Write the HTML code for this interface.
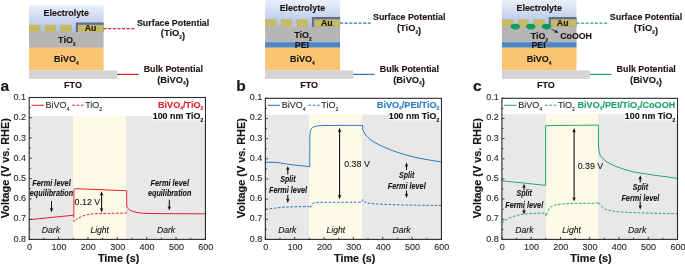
<!DOCTYPE html>
<html lang="en"><head><meta charset="utf-8"><title>Figure</title>
<style>
html,body{margin:0;padding:0;background:#fff;}
body{width:685px;height:265px;overflow:hidden;}
svg{display:block;font-family:"Liberation Sans",Arial,Helvetica,sans-serif;}
</style></head><body>
<svg width="685" height="265" viewBox="0 0 685 265">
<rect x="0" y="0" width="685" height="265" fill="#ffffff"/>
<defs>
<linearGradient id="eleca" x1="0" y1="0" x2="0" y2="1"><stop offset="0" stop-color="#eaeff9"/><stop offset="0.5" stop-color="#cdd8f0"/><stop offset="1" stop-color="#aec0e6"/></linearGradient>
<linearGradient id="elecb" x1="0" y1="0" x2="0" y2="1"><stop offset="0" stop-color="#eaeff9"/><stop offset="0.5" stop-color="#cdd8f0"/><stop offset="1" stop-color="#aec0e6"/></linearGradient>
<linearGradient id="elecc" x1="0" y1="0" x2="0" y2="1"><stop offset="0" stop-color="#eaeff9"/><stop offset="0.5" stop-color="#cdd8f0"/><stop offset="1" stop-color="#aec0e6"/></linearGradient>
</defs>
<rect x="29.0" y="5.3" width="74.6" height="26.70" fill="url(#eleca)"/>
<rect x="29.0" y="32.0" width="74.6" height="15.90" fill="#b5b5b6"/>
<rect x="29.0" y="47.6" width="74.6" height="22.8" fill="#f8c572"/>
<rect x="29.0" y="70.4" width="88" height="8.5" fill="#d3d5d5"/>
<rect x="29.00" y="24.8" width="11.60" height="7.20" fill="#c6ba69"/>
<rect x="44.60" y="24.8" width="11.40" height="7.20" fill="#c6ba69"/>
<rect x="60.20" y="24.8" width="11.80" height="7.20" fill="#c6ba69"/>
<rect x="75.80" y="22.50" width="27.80" height="9.50" fill="#5d708c"/>
<rect x="78.00" y="24.80" width="25.60" height="7.20" fill="#c6ba69"/>
<text x="90.50" y="30.80" font-size="8.8" font-weight="bold" font-style="normal" fill="#1e1412" text-anchor="middle" stroke="#1e1412" stroke-width="0.14" stroke-linejoin="round" >Au</text>
<text x="66.30" y="16.10" font-size="9.2" font-weight="bold" font-style="normal" fill="#1e1412" text-anchor="middle" textLength="45.40" lengthAdjust="spacingAndGlyphs" stroke="#1e1412" stroke-width="0.14" stroke-linejoin="round" >Electrolyte</text>
<text x="66.90" y="43.00" font-size="9.0" font-weight="bold" font-style="normal" fill="#1e1412" text-anchor="middle" stroke="#1e1412" stroke-width="0.14" stroke-linejoin="round" >TiO<tspan dy="2.9" font-size="4.9">2</tspan></text>
<text x="66.30" y="62.00" font-size="9.0" font-weight="bold" font-style="normal" fill="#1e1412" text-anchor="middle" stroke="#1e1412" stroke-width="0.14" stroke-linejoin="round" >BiVO<tspan dy="2.9" font-size="4.9">4</tspan></text>
<text x="73.00" y="87.50" font-size="9.0" font-weight="bold" font-style="normal" fill="#1e1412" text-anchor="middle" stroke="#1e1412" stroke-width="0.14" stroke-linejoin="round" >FTO</text>
<path d="M103.60 28.60 H135.60" stroke="#e6202e" stroke-width="1.25" stroke-dasharray="3.1 1.5" fill="none"/>
<path d="M117.00 74.4 H138.50" stroke="#e6202e" stroke-width="1.25" fill="none"/>
<text x="173.10" y="25.80" font-size="9.3" font-weight="bold" font-style="normal" fill="#1e1412" text-anchor="middle" textLength="72.30" lengthAdjust="spacingAndGlyphs" stroke="#1e1412" stroke-width="0.14" stroke-linejoin="round" >Surface Potential</text>
<text x="173.00" y="36.40" font-size="9.3" font-weight="bold" font-style="normal" fill="#1e1412" text-anchor="middle" stroke="#1e1412" stroke-width="0.14" stroke-linejoin="round" >(TiO<tspan dy="2.9" font-size="4.9">2</tspan>)</text>
<text x="173.30" y="72.00" font-size="9.3" font-weight="bold" font-style="normal" fill="#1e1412" text-anchor="middle" textLength="59.20" lengthAdjust="spacingAndGlyphs" stroke="#1e1412" stroke-width="0.14" stroke-linejoin="round" >Bulk Potential</text>
<text x="173.00" y="82.50" font-size="9.3" font-weight="bold" font-style="normal" fill="#1e1412" text-anchor="middle" stroke="#1e1412" stroke-width="0.14" stroke-linejoin="round" >(BiVO<tspan dy="2.9" font-size="4.9">4</tspan>)</text>
<rect x="265.1" y="0" width="75.0" height="26.80" fill="url(#elecb)"/>
<rect x="265.1" y="26.8" width="75.0" height="15.70" fill="#b5b5b6"/>
<rect x="265.1" y="42.2" width="75.0" height="5.6" fill="#4a86c8"/>
<rect x="265.1" y="47.6" width="75.0" height="22.8" fill="#f8c572"/>
<rect x="265.1" y="70.4" width="88" height="8.5" fill="#d3d5d5"/>
<rect x="265.10" y="19.3" width="11.60" height="7.50" fill="#c6ba69"/>
<rect x="280.70" y="19.3" width="11.40" height="7.50" fill="#c6ba69"/>
<rect x="296.30" y="19.3" width="11.80" height="7.50" fill="#c6ba69"/>
<rect x="311.90" y="17.00" width="28.20" height="9.80" fill="#5d708c"/>
<rect x="314.10" y="19.30" width="26.00" height="7.50" fill="#c6ba69"/>
<text x="326.80" y="25.60" font-size="8.8" font-weight="bold" font-style="normal" fill="#1e1412" text-anchor="middle" stroke="#1e1412" stroke-width="0.14" stroke-linejoin="round" >Au</text>
<text x="302.40" y="11.10" font-size="9.2" font-weight="bold" font-style="normal" fill="#1e1412" text-anchor="middle" textLength="45.40" lengthAdjust="spacingAndGlyphs" stroke="#1e1412" stroke-width="0.14" stroke-linejoin="round" >Electrolyte</text>
<text x="303.00" y="38.20" font-size="9.0" font-weight="bold" font-style="normal" fill="#1e1412" text-anchor="middle" stroke="#1e1412" stroke-width="0.14" stroke-linejoin="round" >TiO<tspan dy="2.9" font-size="4.9">2</tspan></text>
<text x="301.90" y="48.40" font-size="8.8" font-weight="bold" font-style="normal" fill="#1e1412" text-anchor="middle" stroke="#1e1412" stroke-width="0.14" stroke-linejoin="round" >PEI</text>
<text x="302.40" y="62.00" font-size="9.0" font-weight="bold" font-style="normal" fill="#1e1412" text-anchor="middle" stroke="#1e1412" stroke-width="0.14" stroke-linejoin="round" >BiVO<tspan dy="2.9" font-size="4.9">4</tspan></text>
<text x="309.10" y="87.50" font-size="9.0" font-weight="bold" font-style="normal" fill="#1e1412" text-anchor="middle" stroke="#1e1412" stroke-width="0.14" stroke-linejoin="round" >FTO</text>
<path d="M340.10 23.10 H372.10" stroke="#2a7bc3" stroke-width="1.25" stroke-dasharray="3.1 1.5" fill="none"/>
<path d="M353.10 74.4 H374.60" stroke="#2a7bc3" stroke-width="1.25" fill="none"/>
<text x="409.20" y="20.30" font-size="9.3" font-weight="bold" font-style="normal" fill="#1e1412" text-anchor="middle" textLength="72.30" lengthAdjust="spacingAndGlyphs" stroke="#1e1412" stroke-width="0.14" stroke-linejoin="round" >Surface Potential</text>
<text x="409.10" y="30.90" font-size="9.3" font-weight="bold" font-style="normal" fill="#1e1412" text-anchor="middle" stroke="#1e1412" stroke-width="0.14" stroke-linejoin="round" >(TiO<tspan dy="2.9" font-size="4.9">2</tspan>)</text>
<text x="409.40" y="72.00" font-size="9.3" font-weight="bold" font-style="normal" fill="#1e1412" text-anchor="middle" textLength="59.20" lengthAdjust="spacingAndGlyphs" stroke="#1e1412" stroke-width="0.14" stroke-linejoin="round" >Bulk Potential</text>
<text x="409.10" y="82.50" font-size="9.3" font-weight="bold" font-style="normal" fill="#1e1412" text-anchor="middle" stroke="#1e1412" stroke-width="0.14" stroke-linejoin="round" >(BiVO<tspan dy="2.9" font-size="4.9">4</tspan>)</text>
<rect x="501.9" y="0" width="74.6" height="26.80" fill="url(#elecc)"/>
<rect x="501.9" y="26.8" width="74.6" height="15.70" fill="#b5b5b6"/>
<rect x="501.9" y="42.2" width="74.6" height="5.6" fill="#4a86c8"/>
<rect x="501.9" y="47.6" width="74.6" height="22.8" fill="#f8c572"/>
<rect x="501.9" y="70.4" width="88" height="8.5" fill="#d3d5d5"/>
<rect x="501.90" y="19.3" width="11.60" height="7.50" fill="#c6ba69"/>
<rect x="517.50" y="19.3" width="11.40" height="7.50" fill="#c6ba69"/>
<rect x="533.10" y="19.3" width="11.80" height="7.50" fill="#c6ba69"/>
<rect x="548.70" y="17.00" width="27.80" height="9.80" fill="#5d708c"/>
<rect x="550.90" y="19.30" width="25.60" height="7.50" fill="#c6ba69"/>
<text x="562.70" y="25.60" font-size="8.8" font-weight="bold" font-style="normal" fill="#1e1412" text-anchor="middle" stroke="#1e1412" stroke-width="0.14" stroke-linejoin="round" >Au</text>
<text x="539.20" y="11.10" font-size="9.2" font-weight="bold" font-style="normal" fill="#1e1412" text-anchor="middle" textLength="45.40" lengthAdjust="spacingAndGlyphs" stroke="#1e1412" stroke-width="0.14" stroke-linejoin="round" >Electrolyte</text>
<text x="539.40" y="38.80" font-size="8.8" font-weight="bold" font-style="normal" fill="#1e1412" text-anchor="middle" stroke="#1e1412" stroke-width="0.14" stroke-linejoin="round" >TiO<tspan dy="2.9" font-size="4.9">2</tspan></text>
<text x="538.60" y="48.40" font-size="8.8" font-weight="bold" font-style="normal" fill="#1e1412" text-anchor="middle" stroke="#1e1412" stroke-width="0.14" stroke-linejoin="round" >PEI</text>
<text x="560.20" y="38.80" font-size="8.8" font-weight="bold" font-style="normal" fill="#1e1412" text-anchor="start" stroke="#1e1412" stroke-width="0.14" stroke-linejoin="round" >CoOOH</text>
<ellipse cx="515.30" cy="26.6" rx="4.7" ry="2.8" fill="#0d9b62"/>
<ellipse cx="530.80" cy="26.6" rx="4.7" ry="2.8" fill="#0d9b62"/>
<ellipse cx="546.50" cy="26.6" rx="4.7" ry="2.8" fill="#0d9b62"/>
<path d="M551.50 29.3 L556.50 32.0" stroke="#1e1412" stroke-width="0.9" fill="none"/>
<path d="M558.50 33.1 l-4.0 -0.5 l1.5 -2.8 z" fill="#1e1412"/>
<text x="539.20" y="62.00" font-size="9.0" font-weight="bold" font-style="normal" fill="#1e1412" text-anchor="middle" stroke="#1e1412" stroke-width="0.14" stroke-linejoin="round" >BiVO<tspan dy="2.9" font-size="4.9">4</tspan></text>
<text x="545.90" y="87.50" font-size="9.0" font-weight="bold" font-style="normal" fill="#1e1412" text-anchor="middle" stroke="#1e1412" stroke-width="0.14" stroke-linejoin="round" >FTO</text>
<path d="M576.50 23.10 H608.50" stroke="#1ea468" stroke-width="1.25" stroke-dasharray="3.1 1.5" fill="none"/>
<path d="M589.90 74.4 H611.40" stroke="#1ea468" stroke-width="1.25" fill="none"/>
<text x="646.00" y="20.30" font-size="9.3" font-weight="bold" font-style="normal" fill="#1e1412" text-anchor="middle" textLength="72.30" lengthAdjust="spacingAndGlyphs" stroke="#1e1412" stroke-width="0.14" stroke-linejoin="round" >Surface Potential</text>
<text x="645.90" y="30.90" font-size="9.3" font-weight="bold" font-style="normal" fill="#1e1412" text-anchor="middle" stroke="#1e1412" stroke-width="0.14" stroke-linejoin="round" >(TiO<tspan dy="2.9" font-size="4.9">2</tspan>)</text>
<text x="646.20" y="72.00" font-size="9.3" font-weight="bold" font-style="normal" fill="#1e1412" text-anchor="middle" textLength="59.20" lengthAdjust="spacingAndGlyphs" stroke="#1e1412" stroke-width="0.14" stroke-linejoin="round" >Bulk Potential</text>
<text x="645.90" y="82.50" font-size="9.3" font-weight="bold" font-style="normal" fill="#1e1412" text-anchor="middle" stroke="#1e1412" stroke-width="0.14" stroke-linejoin="round" >(BiVO<tspan dy="2.9" font-size="4.9">4</tspan>)</text>
<rect x="29.2" y="116.0" width="176.25" height="123.40" fill="#e8e8e8"/>
<rect x="73.00" y="116.0" width="53.20" height="123.40" fill="#fdfae8"/>
<path d="M29.20 219.70 L73.80 215.20 L73.95 189.60 L74.40 188.90 L75.40 188.70 L126.40 190.70 L126.70 191.20 L126.75 206.00 L127.40 207.70 L128.30 208.90 L129.40 209.80 L130.80 210.60 L132.30 211.20 L134.10 211.80 L137.00 212.50 L140.80 213.00 L145.00 213.30 L149.00 213.50 L170.00 213.70 L205.45 213.80" stroke="#e6202e" stroke-width="1.0" fill="none" stroke-linejoin="round"/>
<path d="M73.80 215.40 L74.00 221.70 L76.00 219.60 L78.90 217.70 L82.00 216.20 L86.40 214.90 L92.00 214.00 L97.70 213.60 L110.00 213.30 L126.50 213.10 L126.90 210.40" stroke="#e6202e" stroke-width="1.0" fill="none" stroke-linejoin="round" stroke-dasharray="2.6 1.6"/>
<text x="51.50" y="186.30" font-size="8.5" font-weight="bold" font-style="italic" fill="#141414" text-anchor="middle" textLength="38.50" lengthAdjust="spacingAndGlyphs" stroke="#141414" stroke-width="0.1" stroke-linejoin="round" >Fermi level</text>
<text x="51.50" y="196.00" font-size="8.5" font-weight="bold" font-style="italic" fill="#141414" text-anchor="middle" textLength="43.40" lengthAdjust="spacingAndGlyphs" stroke="#141414" stroke-width="0.1" stroke-linejoin="round" >equilibration</text>
<text x="169.70" y="186.30" font-size="8.5" font-weight="bold" font-style="italic" fill="#141414" text-anchor="middle" textLength="38.50" lengthAdjust="spacingAndGlyphs" stroke="#141414" stroke-width="0.1" stroke-linejoin="round" >Fermi level</text>
<text x="169.70" y="196.00" font-size="8.5" font-weight="bold" font-style="italic" fill="#141414" text-anchor="middle" textLength="43.40" lengthAdjust="spacingAndGlyphs" stroke="#141414" stroke-width="0.1" stroke-linejoin="round" >equilibration</text>
<path d="M51.50 201.00 V209.80" stroke="#0a0a0a" stroke-width="1.05" fill="none"/>
<path d="M51.50 212.30 l-1.75 -4.40 l1.75 1.00 l1.75 -1.00 z" fill="#0a0a0a"/>
<path d="M169.30 199.80 V208.10" stroke="#0a0a0a" stroke-width="1.05" fill="none"/>
<path d="M169.30 210.60 l-1.75 -4.40 l1.75 1.00 l1.75 -1.00 z" fill="#0a0a0a"/>
<path d="M101.60 193.80 V210.00" stroke="#0a0a0a" stroke-width="1.05" fill="none"/>
<path d="M101.60 212.50 l-1.75 -4.40 l1.75 1.00 l1.75 -1.00 z" fill="#0a0a0a"/>
<path d="M101.60 191.30 l-1.75 4.40 l1.75 -1.00 l1.75 1.00 z" fill="#0a0a0a"/>
<text x="74.60" y="205.20" font-size="8.9" font-weight="normal" font-style="normal" fill="#141414" text-anchor="start" stroke="#141414" stroke-width="0.1" stroke-linejoin="round" >0.12 V</text>
<text x="50.90" y="233.00" font-size="8.6" font-weight="normal" font-style="italic" fill="#141414" text-anchor="middle" stroke="#141414" stroke-width="0.1" stroke-linejoin="round" >Dark</text>
<text x="99.70" y="233.00" font-size="8.6" font-weight="normal" font-style="italic" fill="#141414" text-anchor="middle" stroke="#141414" stroke-width="0.1" stroke-linejoin="round" >Light</text>
<text x="166.00" y="233.00" font-size="8.6" font-weight="normal" font-style="italic" fill="#141414" text-anchor="middle" stroke="#141414" stroke-width="0.1" stroke-linejoin="round" >Dark</text>
<rect x="29.2" y="97.5" width="176.25" height="141.90" fill="none" stroke="#2a2a2a" stroke-width="1.1"/>
<path d="M29.2 97.50 h2.6 M29.2 107.64 h1.6 M29.2 117.77 h2.6 M29.2 127.91 h1.6 M29.2 138.04 h2.6 M29.2 148.18 h1.6 M29.2 158.31 h2.6 M29.2 168.45 h1.6 M29.2 178.59 h2.6 M29.2 188.72 h1.6 M29.2 198.86 h2.6 M29.2 208.99 h1.6 M29.2 219.13 h2.6 M29.2 229.26 h1.6 M29.2 239.40 h2.6 M29.20 239.4 v-2.6 M43.89 239.4 v-1.6 M58.58 239.4 v-2.6 M73.26 239.4 v-1.6 M87.95 239.4 v-2.6 M102.64 239.4 v-1.6 M117.33 239.4 v-2.6 M132.01 239.4 v-1.6 M146.70 239.4 v-2.6 M161.39 239.4 v-1.6 M176.07 239.4 v-2.6 M190.76 239.4 v-1.6 M205.45 239.4 v-2.6 " stroke="#2a2a2a" stroke-width="0.85" fill="none"/>
<text x="26.10" y="100.10" font-size="9.0" font-weight="normal" font-style="normal" fill="#262626" text-anchor="end" stroke="#262626" stroke-width="0.1" stroke-linejoin="round" >0.1</text>
<text x="26.10" y="120.32" font-size="9.0" font-weight="normal" font-style="normal" fill="#262626" text-anchor="end" stroke="#262626" stroke-width="0.1" stroke-linejoin="round" >0.2</text>
<text x="26.10" y="140.54" font-size="9.0" font-weight="normal" font-style="normal" fill="#262626" text-anchor="end" stroke="#262626" stroke-width="0.1" stroke-linejoin="round" >0.3</text>
<text x="26.10" y="160.76" font-size="9.0" font-weight="normal" font-style="normal" fill="#262626" text-anchor="end" stroke="#262626" stroke-width="0.1" stroke-linejoin="round" >0.4</text>
<text x="26.10" y="180.98" font-size="9.0" font-weight="normal" font-style="normal" fill="#262626" text-anchor="end" stroke="#262626" stroke-width="0.1" stroke-linejoin="round" >0.5</text>
<text x="26.10" y="201.20" font-size="9.0" font-weight="normal" font-style="normal" fill="#262626" text-anchor="end" stroke="#262626" stroke-width="0.1" stroke-linejoin="round" >0.6</text>
<text x="26.10" y="221.42" font-size="9.0" font-weight="normal" font-style="normal" fill="#262626" text-anchor="end" stroke="#262626" stroke-width="0.1" stroke-linejoin="round" >0.7</text>
<text x="26.10" y="241.64" font-size="9.0" font-weight="normal" font-style="normal" fill="#262626" text-anchor="end" stroke="#262626" stroke-width="0.1" stroke-linejoin="round" >0.8</text>
<text x="29.60" y="250.10" font-size="9.0" font-weight="normal" font-style="normal" fill="#262626" text-anchor="middle" stroke="#262626" stroke-width="0.1" stroke-linejoin="round" >0</text>
<text x="58.98" y="250.10" font-size="9.0" font-weight="normal" font-style="normal" fill="#262626" text-anchor="middle" stroke="#262626" stroke-width="0.1" stroke-linejoin="round" >100</text>
<text x="88.35" y="250.10" font-size="9.0" font-weight="normal" font-style="normal" fill="#262626" text-anchor="middle" stroke="#262626" stroke-width="0.1" stroke-linejoin="round" >200</text>
<text x="117.73" y="250.10" font-size="9.0" font-weight="normal" font-style="normal" fill="#262626" text-anchor="middle" stroke="#262626" stroke-width="0.1" stroke-linejoin="round" >300</text>
<text x="147.10" y="250.10" font-size="9.0" font-weight="normal" font-style="normal" fill="#262626" text-anchor="middle" stroke="#262626" stroke-width="0.1" stroke-linejoin="round" >400</text>
<text x="176.47" y="250.10" font-size="9.0" font-weight="normal" font-style="normal" fill="#262626" text-anchor="middle" stroke="#262626" stroke-width="0.1" stroke-linejoin="round" >500</text>
<text x="205.85" y="250.10" font-size="9.0" font-weight="normal" font-style="normal" fill="#262626" text-anchor="middle" stroke="#262626" stroke-width="0.1" stroke-linejoin="round" >600</text>
<text x="118.62" y="262.20" font-size="10.8" font-weight="bold" font-style="normal" fill="#141414" text-anchor="middle" textLength="41.40" lengthAdjust="spacingAndGlyphs" stroke="#141414" stroke-width="0.14" stroke-linejoin="round" >Time (s)</text>
<text transform="translate(8.50 168.20) rotate(-90)" font-size="10.7" font-weight="bold" fill="#141414" stroke="#141414" stroke-width="0.14" text-anchor="middle" textLength="100" lengthAdjust="spacingAndGlyphs">Voltage (V vs. RHE)</text>
<text x="0.60" y="90.90" font-size="15.5" font-weight="bold" font-style="normal" fill="#1e1412" text-anchor="start" stroke="#1e1412" stroke-width="0.14" stroke-linejoin="round" >a</text>
<path d="M31.50 105.3 h12.4" stroke="#e6202e" stroke-width="1.05" fill="none"/>
<text x="45.50" y="108.40" font-size="9.0" font-weight="normal" font-style="normal" fill="#262626" text-anchor="start" stroke="#262626" stroke-width="0.1" stroke-linejoin="round" >BiVO<tspan dy="2.6" font-size="5.2">4</tspan></text>
<path d="M72.20 105.3 h11.6" stroke="#e6202e" stroke-width="1.05" stroke-dasharray="2.6 1.8" fill="none"/>
<text x="85.20" y="108.40" font-size="9.0" font-weight="normal" font-style="normal" fill="#262626" text-anchor="start" stroke="#262626" stroke-width="0.1" stroke-linejoin="round" >TiO<tspan dy="2.6" font-size="5.2">2</tspan></text>
<text x="203.25" y="107.70" font-size="9.1" font-weight="bold" font-style="normal" fill="#e6202e" text-anchor="end" stroke="#e6202e" stroke-width="0.14" stroke-linejoin="round" >BiVO<tspan dy="2.5" font-size="4.9">4</tspan><tspan dy="-2.5">/TiO</tspan><tspan dy="2.5" font-size="4.9">2</tspan></text>
<rect x="152.65" y="110.5" width="52.2" height="9.8" fill="#ffffff"/>
<text x="203.15" y="119.10" font-size="8.9" font-weight="bold" font-style="normal" fill="#141414" text-anchor="end" stroke="#141414" stroke-width="0.14" stroke-linejoin="round" >100 nm TiO<tspan dy="2.5" font-size="4.9">2</tspan></text>
<rect x="265.35" y="114.6" width="176.1" height="124.80" fill="#e8e8e8"/>
<rect x="308.90" y="114.6" width="53.20" height="124.80" fill="#fdfae8"/>
<path d="M265.35 162.30 L276.00 162.40 L281.00 163.10 L287.50 164.20 L299.70 165.60 L309.70 166.70 L309.85 136.00 L310.20 131.80 L310.90 129.40 L312.10 127.80 L314.20 126.60 L317.70 125.90 L323.70 125.50 L334.70 125.40 L362.60 125.40 L362.70 129.30 L363.30 130.90 L364.10 132.20 L365.10 133.90 L366.30 135.60 L368.00 137.40 L369.70 139.00 L372.00 140.70 L374.30 142.10 L379.30 145.00 L385.00 147.40 L392.50 150.60 L399.00 152.90 L406.70 155.20 L413.00 156.80 L420.80 158.50 L431.00 160.30 L441.45 162.00" stroke="#2a7bc3" stroke-width="1.0" fill="none" stroke-linejoin="round"/>
<path d="M265.35 209.50 L270.35 208.70 L277.35 207.80 L285.35 207.10 L297.35 206.70 L309.20 206.50 L310.20 208.00 L311.20 205.60 L312.50 203.60 L314.30 202.70 L318.00 202.40 L330.00 202.30 L361.60 202.20 L362.60 199.60 L364.00 201.40 L367.50 203.00 L373.00 203.70 L383.00 204.30 L403.00 205.00 L441.45 205.50" stroke="#2a7bc3" stroke-width="1.0" fill="none" stroke-linejoin="round" stroke-dasharray="2.6 1.6"/>
<text x="288.00" y="182.40" font-size="9.0" font-weight="bold" font-style="italic" fill="#141414" text-anchor="middle" textLength="15.30" lengthAdjust="spacingAndGlyphs" stroke="#141414" stroke-width="0.1" stroke-linejoin="round" >Split</text>
<text x="288.00" y="193.20" font-size="9.0" font-weight="bold" font-style="italic" fill="#141414" text-anchor="middle" textLength="38.00" lengthAdjust="spacingAndGlyphs" stroke="#141414" stroke-width="0.1" stroke-linejoin="round" >Fermi level</text>
<path d="M287.80 174.60 V168.40" stroke="#0a0a0a" stroke-width="1.05" fill="none"/>
<path d="M287.80 165.90 l-1.75 4.40 l1.75 -1.00 l1.75 1.00 z" fill="#0a0a0a"/>
<path d="M287.80 195.00 V200.40" stroke="#0a0a0a" stroke-width="1.05" fill="none"/>
<path d="M287.80 202.90 l-1.75 -4.40 l1.75 1.00 l1.75 -1.00 z" fill="#0a0a0a"/>
<text x="406.70" y="177.90" font-size="9.0" font-weight="bold" font-style="italic" fill="#141414" text-anchor="middle" textLength="15.30" lengthAdjust="spacingAndGlyphs" stroke="#141414" stroke-width="0.1" stroke-linejoin="round" >Split</text>
<text x="406.70" y="188.70" font-size="9.0" font-weight="bold" font-style="italic" fill="#141414" text-anchor="middle" textLength="38.00" lengthAdjust="spacingAndGlyphs" stroke="#141414" stroke-width="0.1" stroke-linejoin="round" >Fermi level</text>
<path d="M406.50 169.80 V164.90" stroke="#0a0a0a" stroke-width="1.05" fill="none"/>
<path d="M406.50 162.40 l-1.75 4.40 l1.75 -1.00 l1.75 1.00 z" fill="#0a0a0a"/>
<path d="M406.50 190.60 V195.40" stroke="#0a0a0a" stroke-width="1.05" fill="none"/>
<path d="M406.50 197.90 l-1.75 -4.40 l1.75 1.00 l1.75 -1.00 z" fill="#0a0a0a"/>
<path d="M339.60 130.30 V196.70" stroke="#0a0a0a" stroke-width="1.05" fill="none"/>
<path d="M339.60 199.20 l-1.75 -4.40 l1.75 1.00 l1.75 -1.00 z" fill="#0a0a0a"/>
<path d="M339.60 127.80 l-1.75 4.40 l1.75 -1.00 l1.75 1.00 z" fill="#0a0a0a"/>
<text x="344.20" y="166.60" font-size="8.9" font-weight="normal" font-style="normal" fill="#141414" text-anchor="start" stroke="#141414" stroke-width="0.1" stroke-linejoin="round" >0.38 V</text>
<text x="287.30" y="233.00" font-size="8.6" font-weight="normal" font-style="italic" fill="#141414" text-anchor="middle" stroke="#141414" stroke-width="0.1" stroke-linejoin="round" >Dark</text>
<text x="335.80" y="233.00" font-size="8.6" font-weight="normal" font-style="italic" fill="#141414" text-anchor="middle" stroke="#141414" stroke-width="0.1" stroke-linejoin="round" >Light</text>
<text x="401.50" y="233.00" font-size="8.6" font-weight="normal" font-style="italic" fill="#141414" text-anchor="middle" stroke="#141414" stroke-width="0.1" stroke-linejoin="round" >Dark</text>
<rect x="265.35" y="98.3" width="176.1" height="141.10" fill="none" stroke="#2a2a2a" stroke-width="1.1"/>
<path d="M265.35 98.30 h2.6 M265.35 108.38 h1.6 M265.35 118.46 h2.6 M265.35 128.54 h1.6 M265.35 138.61 h2.6 M265.35 148.69 h1.6 M265.35 158.77 h2.6 M265.35 168.85 h1.6 M265.35 178.93 h2.6 M265.35 189.01 h1.6 M265.35 199.09 h2.6 M265.35 209.16 h1.6 M265.35 219.24 h2.6 M265.35 229.32 h1.6 M265.35 239.40 h2.6 M265.35 239.4 v-2.6 M280.03 239.4 v-1.6 M294.70 239.4 v-2.6 M309.38 239.4 v-1.6 M324.05 239.4 v-2.6 M338.73 239.4 v-1.6 M353.40 239.4 v-2.6 M368.08 239.4 v-1.6 M382.75 239.4 v-2.6 M397.43 239.4 v-1.6 M412.10 239.4 v-2.6 M426.77 239.4 v-1.6 M441.45 239.4 v-2.6 " stroke="#2a2a2a" stroke-width="0.85" fill="none"/>
<text x="262.25" y="100.10" font-size="9.0" font-weight="normal" font-style="normal" fill="#262626" text-anchor="end" stroke="#262626" stroke-width="0.1" stroke-linejoin="round" >0.1</text>
<text x="262.25" y="120.32" font-size="9.0" font-weight="normal" font-style="normal" fill="#262626" text-anchor="end" stroke="#262626" stroke-width="0.1" stroke-linejoin="round" >0.2</text>
<text x="262.25" y="140.54" font-size="9.0" font-weight="normal" font-style="normal" fill="#262626" text-anchor="end" stroke="#262626" stroke-width="0.1" stroke-linejoin="round" >0.3</text>
<text x="262.25" y="160.76" font-size="9.0" font-weight="normal" font-style="normal" fill="#262626" text-anchor="end" stroke="#262626" stroke-width="0.1" stroke-linejoin="round" >0.4</text>
<text x="262.25" y="180.98" font-size="9.0" font-weight="normal" font-style="normal" fill="#262626" text-anchor="end" stroke="#262626" stroke-width="0.1" stroke-linejoin="round" >0.5</text>
<text x="262.25" y="201.20" font-size="9.0" font-weight="normal" font-style="normal" fill="#262626" text-anchor="end" stroke="#262626" stroke-width="0.1" stroke-linejoin="round" >0.6</text>
<text x="262.25" y="221.42" font-size="9.0" font-weight="normal" font-style="normal" fill="#262626" text-anchor="end" stroke="#262626" stroke-width="0.1" stroke-linejoin="round" >0.7</text>
<text x="262.25" y="241.64" font-size="9.0" font-weight="normal" font-style="normal" fill="#262626" text-anchor="end" stroke="#262626" stroke-width="0.1" stroke-linejoin="round" >0.8</text>
<text x="265.75" y="250.10" font-size="9.0" font-weight="normal" font-style="normal" fill="#262626" text-anchor="middle" stroke="#262626" stroke-width="0.1" stroke-linejoin="round" >0</text>
<text x="295.10" y="250.10" font-size="9.0" font-weight="normal" font-style="normal" fill="#262626" text-anchor="middle" stroke="#262626" stroke-width="0.1" stroke-linejoin="round" >100</text>
<text x="324.45" y="250.10" font-size="9.0" font-weight="normal" font-style="normal" fill="#262626" text-anchor="middle" stroke="#262626" stroke-width="0.1" stroke-linejoin="round" >200</text>
<text x="353.80" y="250.10" font-size="9.0" font-weight="normal" font-style="normal" fill="#262626" text-anchor="middle" stroke="#262626" stroke-width="0.1" stroke-linejoin="round" >300</text>
<text x="383.15" y="250.10" font-size="9.0" font-weight="normal" font-style="normal" fill="#262626" text-anchor="middle" stroke="#262626" stroke-width="0.1" stroke-linejoin="round" >400</text>
<text x="412.50" y="250.10" font-size="9.0" font-weight="normal" font-style="normal" fill="#262626" text-anchor="middle" stroke="#262626" stroke-width="0.1" stroke-linejoin="round" >500</text>
<text x="441.85" y="250.10" font-size="9.0" font-weight="normal" font-style="normal" fill="#262626" text-anchor="middle" stroke="#262626" stroke-width="0.1" stroke-linejoin="round" >600</text>
<text x="354.70" y="262.20" font-size="10.8" font-weight="bold" font-style="normal" fill="#141414" text-anchor="middle" textLength="41.40" lengthAdjust="spacingAndGlyphs" stroke="#141414" stroke-width="0.14" stroke-linejoin="round" >Time (s)</text>
<text transform="translate(244.65 168.20) rotate(-90)" font-size="10.7" font-weight="bold" fill="#141414" stroke="#141414" stroke-width="0.14" text-anchor="middle" textLength="100" lengthAdjust="spacingAndGlyphs">Voltage (V vs. RHE)</text>
<text x="236.20" y="90.90" font-size="15.5" font-weight="bold" font-style="normal" fill="#1e1412" text-anchor="start" stroke="#1e1412" stroke-width="0.14" stroke-linejoin="round" >b</text>
<path d="M267.65 105.3 h12.4" stroke="#2a7bc3" stroke-width="1.05" fill="none"/>
<text x="281.65" y="108.40" font-size="9.0" font-weight="normal" font-style="normal" fill="#262626" text-anchor="start" stroke="#262626" stroke-width="0.1" stroke-linejoin="round" >BiVO<tspan dy="2.6" font-size="5.2">4</tspan></text>
<path d="M308.35 105.3 h11.6" stroke="#2a7bc3" stroke-width="1.05" stroke-dasharray="2.6 1.8" fill="none"/>
<text x="321.35" y="108.40" font-size="9.0" font-weight="normal" font-style="normal" fill="#262626" text-anchor="start" stroke="#262626" stroke-width="0.1" stroke-linejoin="round" >TiO<tspan dy="2.6" font-size="5.2">2</tspan></text>
<text x="439.25" y="107.70" font-size="9.1" font-weight="bold" font-style="normal" fill="#2a7bc3" text-anchor="end" stroke="#2a7bc3" stroke-width="0.14" stroke-linejoin="round" >BiVO<tspan dy="2.5" font-size="4.9">4</tspan><tspan dy="-2.5">/PEI/TiO</tspan><tspan dy="2.5" font-size="4.9">2</tspan></text>
<rect x="388.65" y="110.5" width="52.2" height="9.8" fill="#ffffff"/>
<text x="439.15" y="119.10" font-size="8.9" font-weight="bold" font-style="normal" fill="#141414" text-anchor="end" stroke="#141414" stroke-width="0.14" stroke-linejoin="round" >100 nm TiO<tspan dy="2.5" font-size="4.9">2</tspan></text>
<rect x="501.9" y="114.2" width="175.6" height="125.20" fill="#e8e8e8"/>
<rect x="545.90" y="114.2" width="52.20" height="125.20" fill="#fdfae8"/>
<path d="M501.90 180.90 L523.50 183.00 L545.60 185.40 L545.70 125.60 L598.40 125.10 L598.50 147.00 L599.20 152.00 L600.40 155.80 L604.20 160.00 L610.00 163.80 L617.00 166.80 L625.00 169.60 L633.00 171.80 L641.00 173.20 L649.00 174.40 L657.00 175.60 L665.00 176.60 L677.50 178.40" stroke="#27a870" stroke-width="1.0" fill="none" stroke-linejoin="round"/>
<path d="M501.90 222.80 L504.90 220.80 L509.30 218.10 L514.00 216.20 L520.00 214.60 L525.00 213.90 L530.90 213.50 L545.40 213.10 L546.10 216.30 L547.20 212.60 L549.10 208.90 L550.60 207.10 L552.50 205.90 L554.50 205.10 L557.00 204.60 L562.60 203.90 L574.00 203.40 L597.60 203.20 L598.40 201.90 L599.50 204.20 L601.70 206.40 L605.00 209.20 L610.50 210.80 L618.50 211.80 L632.50 212.60 L648.50 213.10 L677.50 213.80" stroke="#27a870" stroke-width="1.0" fill="none" stroke-linejoin="round" stroke-dasharray="2.6 1.6"/>
<text x="524.20" y="196.40" font-size="9.2" font-weight="bold" font-style="italic" fill="#141414" text-anchor="middle" textLength="15.30" lengthAdjust="spacingAndGlyphs" stroke="#141414" stroke-width="0.1" stroke-linejoin="round" >Split</text>
<text x="524.20" y="207.60" font-size="9.2" font-weight="bold" font-style="italic" fill="#141414" text-anchor="middle" textLength="38.00" lengthAdjust="spacingAndGlyphs" stroke="#141414" stroke-width="0.1" stroke-linejoin="round" >Fermi level</text>
<path d="M524.00 190.20 V186.20" stroke="#0a0a0a" stroke-width="1.05" fill="none"/>
<path d="M524.00 183.70 l-1.75 4.40 l1.75 -1.00 l1.75 1.00 z" fill="#0a0a0a"/>
<path d="M524.00 208.70 V212.10" stroke="#0a0a0a" stroke-width="1.05" fill="none"/>
<path d="M524.00 214.60 l-1.75 -4.40 l1.75 1.00 l1.75 -1.00 z" fill="#0a0a0a"/>
<text x="640.40" y="189.70" font-size="9.2" font-weight="bold" font-style="italic" fill="#141414" text-anchor="middle" textLength="15.30" lengthAdjust="spacingAndGlyphs" stroke="#141414" stroke-width="0.1" stroke-linejoin="round" >Split</text>
<text x="640.40" y="200.50" font-size="9.2" font-weight="bold" font-style="italic" fill="#141414" text-anchor="middle" textLength="38.00" lengthAdjust="spacingAndGlyphs" stroke="#141414" stroke-width="0.1" stroke-linejoin="round" >Fermi level</text>
<path d="M640.20 182.60 V177.80" stroke="#0a0a0a" stroke-width="1.05" fill="none"/>
<path d="M640.20 175.30 l-1.75 4.40 l1.75 -1.00 l1.75 1.00 z" fill="#0a0a0a"/>
<path d="M640.20 201.40 V207.10" stroke="#0a0a0a" stroke-width="1.05" fill="none"/>
<path d="M640.20 209.60 l-1.75 -4.40 l1.75 1.00 l1.75 -1.00 z" fill="#0a0a0a"/>
<path d="M574.10 130.50 V199.10" stroke="#0a0a0a" stroke-width="1.05" fill="none"/>
<path d="M574.10 201.60 l-1.75 -4.40 l1.75 1.00 l1.75 -1.00 z" fill="#0a0a0a"/>
<path d="M574.10 128.00 l-1.75 4.40 l1.75 -1.00 l1.75 1.00 z" fill="#0a0a0a"/>
<text x="577.70" y="169.00" font-size="8.8" font-weight="normal" font-style="normal" fill="#141414" text-anchor="start" stroke="#141414" stroke-width="0.1" stroke-linejoin="round" >0.39 V</text>
<text x="524.40" y="233.00" font-size="8.6" font-weight="normal" font-style="italic" fill="#141414" text-anchor="middle" stroke="#141414" stroke-width="0.1" stroke-linejoin="round" >Dark</text>
<text x="571.60" y="233.00" font-size="8.6" font-weight="normal" font-style="italic" fill="#141414" text-anchor="middle" stroke="#141414" stroke-width="0.1" stroke-linejoin="round" >Light</text>
<text x="637.20" y="233.00" font-size="8.6" font-weight="normal" font-style="italic" fill="#141414" text-anchor="middle" stroke="#141414" stroke-width="0.1" stroke-linejoin="round" >Dark</text>
<rect x="501.9" y="98.3" width="175.6" height="141.10" fill="none" stroke="#2a2a2a" stroke-width="1.1"/>
<path d="M501.9 98.30 h2.6 M501.9 108.38 h1.6 M501.9 118.46 h2.6 M501.9 128.54 h1.6 M501.9 138.61 h2.6 M501.9 148.69 h1.6 M501.9 158.77 h2.6 M501.9 168.85 h1.6 M501.9 178.93 h2.6 M501.9 189.01 h1.6 M501.9 199.09 h2.6 M501.9 209.16 h1.6 M501.9 219.24 h2.6 M501.9 229.32 h1.6 M501.9 239.40 h2.6 M501.90 239.4 v-2.6 M516.53 239.4 v-1.6 M531.17 239.4 v-2.6 M545.80 239.4 v-1.6 M560.43 239.4 v-2.6 M575.07 239.4 v-1.6 M589.70 239.4 v-2.6 M604.33 239.4 v-1.6 M618.97 239.4 v-2.6 M633.60 239.4 v-1.6 M648.23 239.4 v-2.6 M662.87 239.4 v-1.6 M677.50 239.4 v-2.6 " stroke="#2a2a2a" stroke-width="0.85" fill="none"/>
<text x="498.80" y="100.10" font-size="9.0" font-weight="normal" font-style="normal" fill="#262626" text-anchor="end" stroke="#262626" stroke-width="0.1" stroke-linejoin="round" >0.1</text>
<text x="498.80" y="120.32" font-size="9.0" font-weight="normal" font-style="normal" fill="#262626" text-anchor="end" stroke="#262626" stroke-width="0.1" stroke-linejoin="round" >0.2</text>
<text x="498.80" y="140.54" font-size="9.0" font-weight="normal" font-style="normal" fill="#262626" text-anchor="end" stroke="#262626" stroke-width="0.1" stroke-linejoin="round" >0.3</text>
<text x="498.80" y="160.76" font-size="9.0" font-weight="normal" font-style="normal" fill="#262626" text-anchor="end" stroke="#262626" stroke-width="0.1" stroke-linejoin="round" >0.4</text>
<text x="498.80" y="180.98" font-size="9.0" font-weight="normal" font-style="normal" fill="#262626" text-anchor="end" stroke="#262626" stroke-width="0.1" stroke-linejoin="round" >0.5</text>
<text x="498.80" y="201.20" font-size="9.0" font-weight="normal" font-style="normal" fill="#262626" text-anchor="end" stroke="#262626" stroke-width="0.1" stroke-linejoin="round" >0.6</text>
<text x="498.80" y="221.42" font-size="9.0" font-weight="normal" font-style="normal" fill="#262626" text-anchor="end" stroke="#262626" stroke-width="0.1" stroke-linejoin="round" >0.7</text>
<text x="498.80" y="241.64" font-size="9.0" font-weight="normal" font-style="normal" fill="#262626" text-anchor="end" stroke="#262626" stroke-width="0.1" stroke-linejoin="round" >0.8</text>
<text x="502.30" y="250.10" font-size="9.0" font-weight="normal" font-style="normal" fill="#262626" text-anchor="middle" stroke="#262626" stroke-width="0.1" stroke-linejoin="round" >0</text>
<text x="531.57" y="250.10" font-size="9.0" font-weight="normal" font-style="normal" fill="#262626" text-anchor="middle" stroke="#262626" stroke-width="0.1" stroke-linejoin="round" >100</text>
<text x="560.83" y="250.10" font-size="9.0" font-weight="normal" font-style="normal" fill="#262626" text-anchor="middle" stroke="#262626" stroke-width="0.1" stroke-linejoin="round" >200</text>
<text x="590.10" y="250.10" font-size="9.0" font-weight="normal" font-style="normal" fill="#262626" text-anchor="middle" stroke="#262626" stroke-width="0.1" stroke-linejoin="round" >300</text>
<text x="619.37" y="250.10" font-size="9.0" font-weight="normal" font-style="normal" fill="#262626" text-anchor="middle" stroke="#262626" stroke-width="0.1" stroke-linejoin="round" >400</text>
<text x="648.63" y="250.10" font-size="9.0" font-weight="normal" font-style="normal" fill="#262626" text-anchor="middle" stroke="#262626" stroke-width="0.1" stroke-linejoin="round" >500</text>
<text x="677.90" y="250.10" font-size="9.0" font-weight="normal" font-style="normal" fill="#262626" text-anchor="middle" stroke="#262626" stroke-width="0.1" stroke-linejoin="round" >600</text>
<text x="591.00" y="262.20" font-size="10.8" font-weight="bold" font-style="normal" fill="#141414" text-anchor="middle" textLength="41.40" lengthAdjust="spacingAndGlyphs" stroke="#141414" stroke-width="0.14" stroke-linejoin="round" >Time (s)</text>
<text transform="translate(481.20 168.20) rotate(-90)" font-size="10.7" font-weight="bold" fill="#141414" stroke="#141414" stroke-width="0.14" text-anchor="middle" textLength="100" lengthAdjust="spacingAndGlyphs">Voltage (V vs. RHE)</text>
<text x="473.00" y="90.90" font-size="15.5" font-weight="bold" font-style="normal" fill="#1e1412" text-anchor="start" stroke="#1e1412" stroke-width="0.14" stroke-linejoin="round" >c</text>
<path d="M504.20 105.3 h12.4" stroke="#1ea468" stroke-width="1.05" fill="none"/>
<text x="518.20" y="108.40" font-size="9.0" font-weight="normal" font-style="normal" fill="#262626" text-anchor="start" stroke="#262626" stroke-width="0.1" stroke-linejoin="round" >BiVO<tspan dy="2.6" font-size="5.2">4</tspan></text>
<path d="M544.90 105.3 h11.6" stroke="#1ea468" stroke-width="1.05" stroke-dasharray="2.6 1.8" fill="none"/>
<text x="557.90" y="108.40" font-size="9.0" font-weight="normal" font-style="normal" fill="#262626" text-anchor="start" stroke="#262626" stroke-width="0.1" stroke-linejoin="round" >TiO<tspan dy="2.6" font-size="5.2">2</tspan></text>
<text x="675.30" y="107.70" font-size="9.1" font-weight="bold" font-style="normal" fill="#1ea468" text-anchor="end" stroke="#1ea468" stroke-width="0.14" stroke-linejoin="round" >BiVO<tspan dy="2.5" font-size="4.9">4</tspan><tspan dy="-2.5">/PEI/TiO</tspan><tspan dy="2.5" font-size="4.9">2</tspan><tspan dy="-2.5">/CoOOH</tspan></text>
<rect x="624.70" y="110.5" width="52.2" height="9.8" fill="#ffffff"/>
<text x="675.20" y="119.10" font-size="8.9" font-weight="bold" font-style="normal" fill="#141414" text-anchor="end" stroke="#141414" stroke-width="0.14" stroke-linejoin="round" >100 nm TiO<tspan dy="2.5" font-size="4.9">2</tspan></text>
</svg>
</body></html>
